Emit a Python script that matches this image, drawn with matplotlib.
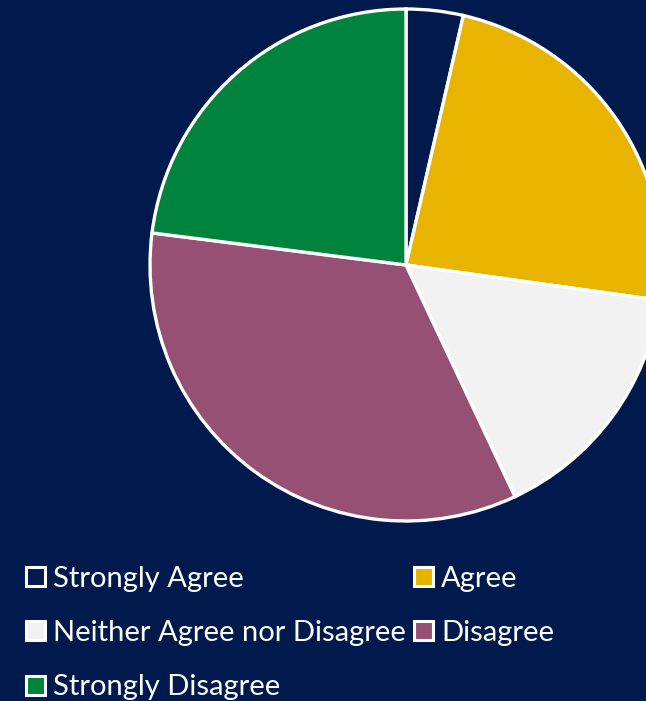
import matplotlib
matplotlib.use("Agg")
import matplotlib.pyplot as plt
from matplotlib.patches import Rectangle

# Survey response shares (percent)
categories = ["Strongly Agree", "Agree", "Neither Agree nor Disagree",
              "Disagree", "Strongly Disagree"]
shares = [3.6, 23.6, 15.8, 34.0, 23.0]
colors = ["#001A4D", "#E8B400", "#F2F2F2", "#965073", "#00843D"]

BG = "#001A4D"
W, H, DPI = 646, 701, 100

fig = plt.figure(figsize=(W / DPI, H / DPI), dpi=DPI, facecolor=BG)

# Pie axes: centre (406, 265) px from top-left, radius 256 px
cx, cy, r = 406, 265, 256
ax = fig.add_axes([(cx - r) / W, (H - cy - r) / H, 2 * r / W, 2 * r / H])
ax.set_facecolor(BG)
ax.pie(shares, colors=colors, startangle=90, counterclock=False, radius=1.0,
       wedgeprops=dict(edgecolor="white", linewidth=2.4), frame=False)
ax.set_xlim(-1.0, 1.0)
ax.set_ylim(-1.0, 1.0)
ax.set_aspect("equal")
ax.axis("off")

# Legend laid out row by row in two columns
col_x = [26, 414]
row_top = [567, 621, 676]
box = 19
for i, (lab, col) in enumerate(zip(categories, colors)):
    row, c = divmod(i, 2)
    x0, y0 = col_x[c], row_top[row]
    fig.patches.append(Rectangle((x0 / W, (H - y0 - box) / H), box / W, box / H,
                                 transform=fig.transFigure, facecolor=col,
                                 edgecolor="white", linewidth=2.2))
    fig.text((x0 + 27) / W, (H - y0 - box - 0.5) / H, lab, color="white",
             fontsize=21, family="Lato", va="baseline", ha="left")

fig.savefig("out.png", dpi=DPI, facecolor=BG)
